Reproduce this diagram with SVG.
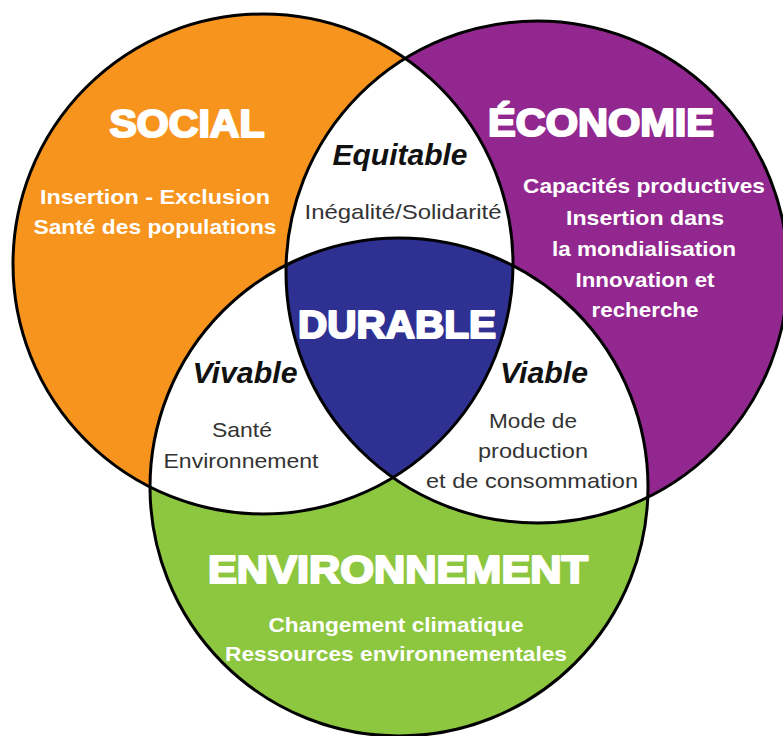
<svg xmlns="http://www.w3.org/2000/svg" width="783" height="736" viewBox="0 0 783 736">
<style>
.title{font-family:"Liberation Sans",Arial,sans-serif;font-weight:bold;font-size:39px;fill:#ffffff;stroke:#ffffff;stroke-width:2.2;stroke-linejoin:round;text-anchor:middle}
.sub{font-family:"Liberation Sans",Arial,sans-serif;font-weight:bold;font-size:21px;fill:#ffffff;text-anchor:middle}
.lbl{font-family:"Liberation Sans",Arial,sans-serif;font-weight:bold;font-style:italic;font-size:30px;fill:#111111;text-anchor:middle}
.small{font-family:"Liberation Sans",Arial,sans-serif;font-size:21px;fill:#333333;text-anchor:middle}
.edge{fill:none;stroke:#000000;stroke-width:3}
</style>
<defs>
<clipPath id="cO"><circle cx="263" cy="264" r="250"/></clipPath>
<clipPath id="cP"><circle cx="537" cy="272" r="251"/></clipPath>
<clipPath id="cG"><circle cx="399" cy="487" r="249"/></clipPath>
</defs>
<rect width="783" height="736" fill="#ffffff"/>
<g id="social">
<circle cx="263" cy="264" r="250" fill="#f7941d"/>
</g>
<g id="economie">
<circle cx="537" cy="272" r="251" fill="#92278f"/>
</g>
<g id="environnement">
<circle cx="399" cy="487" r="249" fill="#8dc63f"/>
</g>
<g id="equitable">
<circle cx="537" cy="272" r="251" fill="#ffffff" clip-path="url(#cO)"/>
</g>
<g id="vivable">
<circle cx="399" cy="487" r="249" fill="#ffffff" clip-path="url(#cO)"/>
</g>
<g id="viable">
<circle cx="399" cy="487" r="249" fill="#ffffff" clip-path="url(#cP)"/>
</g>
<g id="durable">
<g clip-path="url(#cO)">
<circle cx="399" cy="487" r="249" fill="#2e3192" clip-path="url(#cP)"/>
</g>
</g>
<g id="connectors">
<circle class="edge" cx="263" cy="264" r="250"/>
<circle class="edge" cx="537" cy="272" r="251"/>
<circle class="edge" cx="399" cy="487" r="249"/>
</g>
<g id="labels-social">
<text class="title" x="187" y="137" textLength="155" lengthAdjust="spacingAndGlyphs">SOCIAL</text>
<text class="sub" x="155" y="204" textLength="230" lengthAdjust="spacingAndGlyphs">Insertion - Exclusion</text>
<text class="sub" x="155" y="234" textLength="243" lengthAdjust="spacingAndGlyphs">Santé des populations</text>
</g>
<g id="labels-economie">
<text class="title" x="601" y="136" textLength="226" lengthAdjust="spacingAndGlyphs">ÉCONOMIE</text>
<text class="sub" x="644" y="193" textLength="242" lengthAdjust="spacingAndGlyphs">Capacités productives</text>
<text class="sub" x="645" y="225" textLength="158" lengthAdjust="spacingAndGlyphs">Insertion dans</text>
<text class="sub" x="644" y="256" textLength="184" lengthAdjust="spacingAndGlyphs">la mondialisation</text>
<text class="sub" x="645" y="287" textLength="139" lengthAdjust="spacingAndGlyphs">Innovation et</text>
<text class="sub" x="645" y="317" textLength="107" lengthAdjust="spacingAndGlyphs">recherche</text>
</g>
<g id="labels-environnement">
<text class="title" x="398" y="583" textLength="380" lengthAdjust="spacingAndGlyphs">ENVIRONNEMENT</text>
<text class="sub" x="396" y="632" textLength="255" lengthAdjust="spacingAndGlyphs">Changement climatique</text>
<text class="sub" x="396" y="661" textLength="342" lengthAdjust="spacingAndGlyphs">Ressources environnementales</text>
</g>
<g id="labels-equitable">
<text class="lbl" x="400" y="165" textLength="135" lengthAdjust="spacingAndGlyphs">Equitable</text>
<text class="small" x="403" y="219" textLength="197" lengthAdjust="spacingAndGlyphs">Inégalité/Solidarité</text>
</g>
<g id="labels-durable">
<text class="title" x="397" y="338" textLength="198" lengthAdjust="spacingAndGlyphs">DURABLE</text>
</g>
<g id="labels-vivable">
<text class="lbl" x="245" y="383" textLength="105" lengthAdjust="spacingAndGlyphs">Vivable</text>
<text class="small" x="242" y="437" textLength="60" lengthAdjust="spacingAndGlyphs">Santé</text>
<text class="small" x="241" y="468" textLength="155" lengthAdjust="spacingAndGlyphs">Environnement</text>
</g>
<g id="labels-viable">
<text class="lbl" x="544" y="383" textLength="88" lengthAdjust="spacingAndGlyphs">Viable</text>
<text class="small" x="533" y="428" textLength="88" lengthAdjust="spacingAndGlyphs">Mode de</text>
<text class="small" x="533" y="458" textLength="110" lengthAdjust="spacingAndGlyphs">production</text>
<text class="small" x="532" y="488" textLength="212" lengthAdjust="spacingAndGlyphs">et de consommation</text>
</g>
</svg>
